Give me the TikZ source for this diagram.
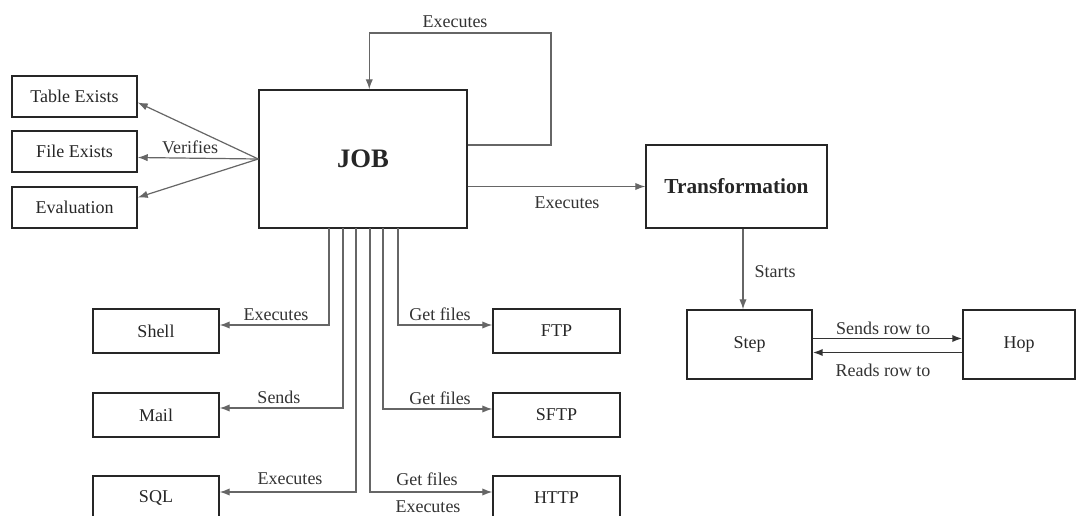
\documentclass[tikz,border=0pt]{standalone}
\usepackage{fontspec}
\setmainfont{Liberation Serif}
\usetikzlibrary{arrows.meta,calc}
\begin{document}
\begin{tikzpicture}[x=0.75pt,y=-0.75pt,
  box/.style={draw=black!85,line width=1.1pt,rectangle,inner sep=0pt,
    font=\fontsize{13.5}{15}\selectfont,text=black!85},
  conn/.style={draw=black!60,line width=0.9pt},
  arr/.style={conn,-{Latex[length=7.5pt,width=5.5pt]}},
  lbl/.style={font=\fontsize{13.5}{15}\selectfont,text=black!80,inner sep=0pt}]
\clip (0,0) rectangle (1076,515);
\fill[white] (0,0) rectangle (1076,515);
% boxes
\node[box,minimum width=125*0.75pt,minimum height=41*0.75pt] (tbl) at (74.5,96.5) {Table Exists};
\node[box,minimum width=125*0.75pt,minimum height=41*0.75pt] (file) at (74.5,151.5) {File Exists};
\node[box,minimum width=125*0.75pt,minimum height=41*0.75pt] (eval) at (74.5,207.5) {Evaluation};
\node[box,minimum width=208*0.75pt,minimum height=138*0.75pt,font=\fontsize{20}{22}\selectfont\bfseries] (job) at (363,159) {JOB};
\node[box,minimum width=181*0.75pt,minimum height=83*0.75pt,font=\fontsize{16}{18}\selectfont\bfseries] (trans) at (736.5,186.5) {Transformation};
\node[box,minimum width=125*0.75pt,minimum height=69*0.75pt] (step) at (749.5,344.5) {Step};
\node[box,minimum width=112*0.75pt,minimum height=69*0.75pt] (hop) at (1019,344.5) {Hop};
\node[box,minimum width=126*0.75pt,minimum height=44*0.75pt] (shell) at (156,331) {Shell};
\node[box,minimum width=126*0.75pt,minimum height=44*0.75pt] (mail) at (156,415) {Mail};
\node[box,minimum width=126*0.75pt,minimum height=44*0.75pt] (sql) at (156,498) {SQL};
\node[box,minimum width=127*0.75pt,minimum height=44*0.75pt] (ftp) at (556.5,331) {FTP};
\node[box,minimum width=127*0.75pt,minimum height=44*0.75pt] (sftp) at (556.5,415) {SFTP};
\node[box,minimum width=127*0.75pt,minimum height=44*0.75pt] (http) at (556.5,498) {HTTP};
% verifies
\draw[arr] (job.west) -- ($(tbl.east)+(0,6)$);
\draw[arr] (job.west) -- ($(file.east)+(0,6)$);
\draw[arr] (job.west) -- ($(eval.east)+(0,-10)$);
\node[lbl] (lverif) at (190,147) {Verifies};
% loop
\coordinate (loopA) at (551,145);
\coordinate (loopB) at (551,33);
\coordinate (jtop) at ($(job.north west)+(111,0)$);
\draw[arr] (job.east |- loopA) -- (loopA) -- (loopB) -- (jtop |- loopB) -- (jtop);
\node[lbl] (lloop) at (455,22) {Executes};
% to transformation
\draw[arr] (job.east |- trans.west) -- (trans.west);
\node[lbl] (ltrans) at (567,203) {Executes};
% starts
\draw[arr] ($(trans.south)+(6.5,0)$) -- ($(step.north)+(-6.5,0)$);
\node[lbl] (lstarts) at (775,272) {Starts};
% step <-> hop
\draw[arr,draw=black!80,line width=1.3pt] ($(step.east)+(0,-6)$) -- ($(hop.west)+(0,-6)$);
\draw[arr,draw=black!80,line width=1.3pt] ($(hop.west)+(0,8)$) -- ($(step.east)+(0,8)$);
\node[lbl] (lsends) at (883,328) {Sends row to};
\node[lbl] (lreads) at (883,370) {Reads row to};
% bottom branches
\coordinate (bShell) at (329,228);
\coordinate (bMail) at (343,228);
\coordinate (bSql) at (356,228);
\coordinate (bHttp) at (370,228);
\coordinate (bSftp) at (383,228);
\coordinate (bFtp) at (398,228);
\draw[arr] (bShell) |- ($(shell.east)+(0,-6)$);
\draw[arr] (bMail) |- ($(mail.east)+(0,-7)$);
\draw[arr] (bSql) |- ($(sql.east)+(0,-6)$);
\draw[arr] (bHttp) |- ($(http.west)+(0,-6)$);
\draw[arr] (bSftp) |- ($(sftp.west)+(0,-6)$);
\draw[arr] (bFtp) |- ($(ftp.west)+(0,-6)$);
\node[lbl] (lshell) at (276,315) {Executes};
\node[lbl] (lmail) at (279,397) {Sends};
\node[lbl] (lsql) at (290,479) {Executes};
\node[lbl] (lhttp1) at (427,479) {Get files};
\node[lbl] (lhttp2) at (428,507) {Executes};
\node[lbl] (lsftp) at (440,398) {Get files};
\node[lbl] (lftp) at (440,314) {Get files};
\end{tikzpicture}
\end{document}
